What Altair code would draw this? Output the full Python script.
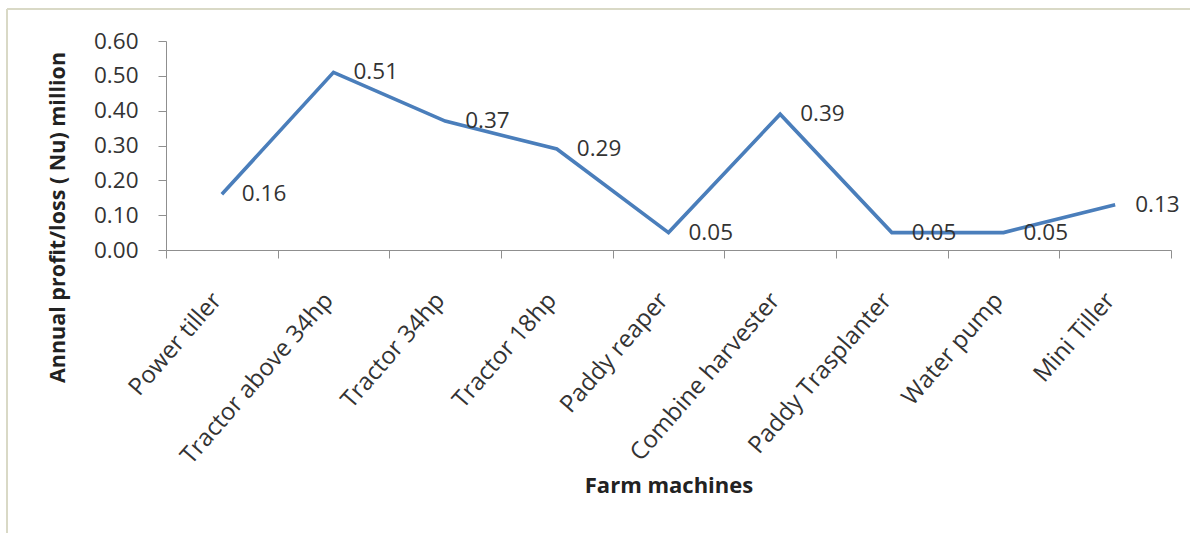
import altair as alt
import pandas as pd

machines = ["Power tiller", "Tractor above 34hp", "Tractor 34hp", "Tractor 18hp",
            "Paddy reaper", "Combine harvester", "Paddy Trasplanter", "Water pump", "Mini Tiller"]
profit = [0.16, 0.51, 0.37, 0.29, 0.05, 0.39, 0.05, 0.05, 0.13]
y_ticks = [0.0, 0.1, 0.2, 0.3, 0.4, 0.5, 0.6]

df = pd.DataFrame({"machine": machines, "profit": profit})

FONT = "Open Sans"
TXT = "#333333"
AX = "#8f8f8f"

x_enc = alt.X("machine:N", sort=machines,
              scale=alt.Scale(type="band", paddingInner=0, paddingOuter=0),
              axis=alt.Axis(title="Farm machines", labelAngle=-49, labelAlign="right",
                            labelBaseline="middle", labelPadding=38, labelOffset=-5,
                            tickBand="extent",
                            tickSize=8, labelFontSize=24, labelFont=FONT, labelColor=TXT,
                            titleFont=FONT, titleFontSize=22, titleFontWeight="bold",
                            titleColor="#222222", titleY=235, titleBaseline="middle",
                            domainColor=AX, tickColor=AX, labelLimit=400,
                            labelOverlap=False))
y_enc = alt.Y("profit:Q", scale=alt.Scale(domain=[0, 0.6], nice=False),
              axis=alt.Axis(title="Annual profit/loss ( Nu) million", values=y_ticks,
                            tickCount=7, labelOverlap=False,
                            format=".2f", tickSize=8, labelPadding=20, labelFontSize=22.5,
                            labelFont=FONT, labelColor=TXT, grid=False,
                            titleFont=FONT, titleFontSize=21.5, titleFontWeight="bold",
                            titleColor="#222222", titleX=-108, titleY=176,
                            titleBaseline="middle", titleAlign="center", titleAngle=-90,
                            domainColor=AX, tickColor=AX))

base = alt.Chart(df)
line = base.mark_line(color="#4a7ebb", strokeWidth=3.6).encode(x=x_enc, y=y_enc)
labels = base.mark_text(align="left", baseline="middle", dx=20, fontSize=22.5,
                        font=FONT, color=TXT).encode(
    x=alt.X("machine:N", sort=machines),
    y="profit:Q",
    text=alt.Text("profit:Q", format=".2f"))

border_data = alt.Data(values=[{"k": 1}])
top_border = alt.Chart(border_data).mark_rule(color="#d9d9c6", strokeWidth=2).encode(
    x=alt.value(-159), x2=alt.value(1030), y=alt.value(-32))
left_border = alt.Chart(border_data).mark_rule(color="#d9d9c6", strokeWidth=2).encode(
    x=alt.value(-159), y=alt.value(-32), y2=alt.value(500))

chart = alt.layer(top_border, left_border, line, labels).properties(
    width=1005, height=209,
    autosize=alt.AutoSizeParams(type="none"),
    padding={"left": 166, "top": 41, "right": 19, "bottom": 283},
    background="white"
).configure_view(stroke=None)

chart.save("out.html", embed_options={"renderer": "svg", "actions": False})
